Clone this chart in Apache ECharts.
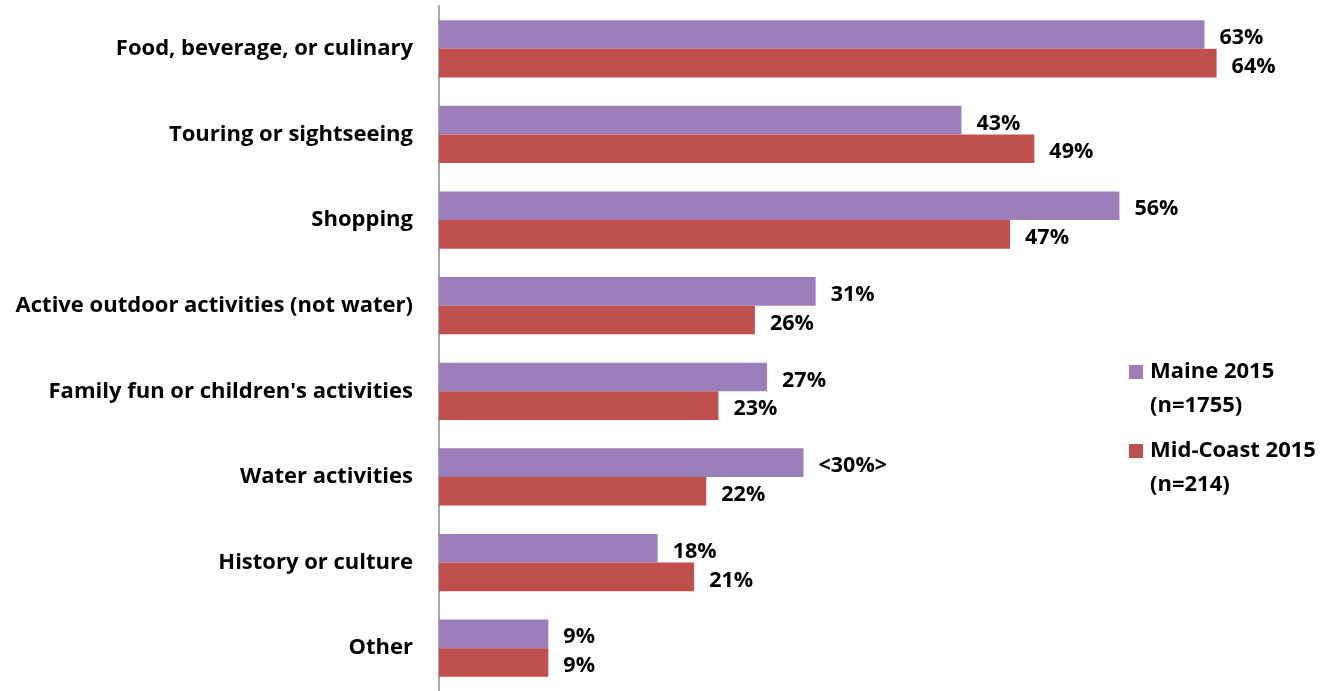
<!DOCTYPE html>
<html>
<head>
<meta charset="utf-8">
<script src="https://cdn.jsdelivr.net/npm/echarts@6/dist/echarts.min.js"></script>
<style>
html,body{margin:0;padding:0;background:#fff;}
#chart{width:1324px;height:691px;}
</style>
</head>
<body>
<div id="chart"></div>
<script>
var categories = [
  "Food, beverage, or culinary",
  "Touring or sightseeing",
  "Shopping",
  "Active outdoor activities (not water)",
  "Family fun or children's activities",
  "Water activities",
  "History or culture",
  "Other"
];
var seriesNames = ["Maine 2015\n(n=1755)", "Mid-Coast 2015\n(n=214)"];
var maineValues = [63, 43, 56, 31, 27, 30, 18, 9];
var midCoastValues = [64, 49, 47, 26, 23, 22, 21, 9];
var maineLabels = ["63%", "43%", "56%", "31%", "27%", "<30%>", "18%", "9%"];
var midCoastLabels = ["64%", "49%", "47%", "26%", "23%", "22%", "21%", "9%"];

var FONT = "Open Sans";
var FS = 22;
var chart = echarts.init(document.getElementById('chart'), null, {renderer: 'canvas'});

function labelCfg(arr) {
  return {
    show: true,
    position: 'right',
    distance: 15,
    offset: [0, 3.5],
    color: '#000',
    fontFamily: FONT,
    fontWeight: 'bold',
    fontSize: 21.5,
    formatter: function (p) { return arr[p.dataIndex]; }
  };
}

var legendIcon = 'path://M0,0L14,0L14,14L0,14Z M0,48L0.001,48L0.001,48.001Z';

chart.setOption({
  animation: false,
  backgroundColor: '#fff',
  grid: { left: 439, right: 34.5, top: 6, bottom: -3, containLabel: false },
  legend: {
    orient: 'vertical',
    left: 1124,
    top: 350,
    itemWidth: 14,
    itemHeight: 48,
    itemGap: 11,
    icon: legendIcon,
    data: seriesNames,
    textStyle: {
      color: '#000',
      fontFamily: FONT,
      fontWeight: 'bold',
      fontSize: FS,
      lineHeight: 34,
      padding: [0, 0, 0, 2]
    },
    selectedMode: false
  },
  xAxis: {
    type: 'value',
    min: 0,
    max: 70,
    show: false,
    splitLine: { show: false }
  },
  yAxis: {
    type: 'category',
    data: categories,
    inverse: true,
    axisTick: { show: false },
    axisLine: { show: true, lineStyle: { color: '#a6a6a6', width: 2 } },
    axisLabel: {
      margin: 26,
      color: '#000',
      fontFamily: FONT,
      fontWeight: 'bold',
      fontSize: FS,
      padding: [4, 0, 0, 0]
    }
  },
  series: [
    {
      name: seriesNames[0],
      type: 'bar',
      data: maineValues,
      barGap: '0%',
      barCategoryGap: '33%',
      itemStyle: { color: '#9B7EBA' },
      label: labelCfg(maineLabels)
    },
    {
      name: seriesNames[1],
      type: 'bar',
      data: midCoastValues,
      barGap: '0%',
      barCategoryGap: '33%',
      itemStyle: { color: '#C0504D' },
      label: labelCfg(midCoastLabels)
    }
  ]
});
</script>
</body>
</html>
